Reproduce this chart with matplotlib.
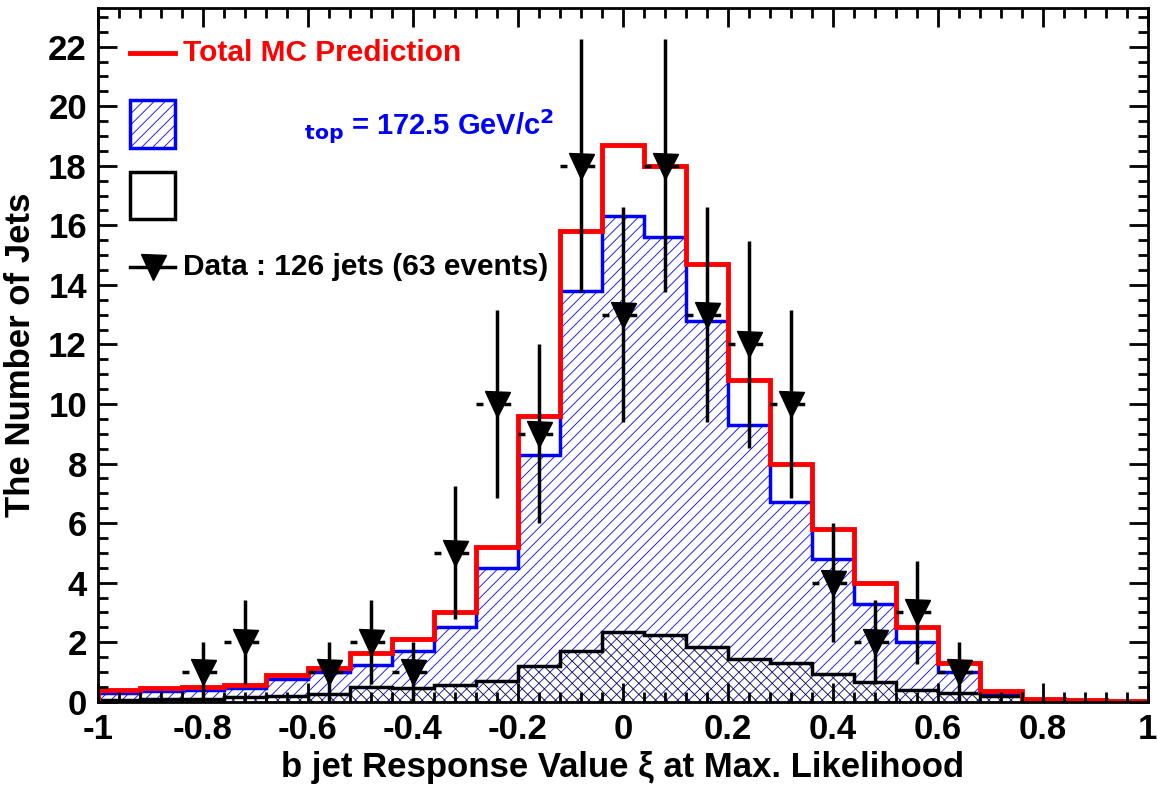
import numpy as np
import matplotlib
matplotlib.use("Agg")
import matplotlib.pyplot as plt
from matplotlib.patches import Rectangle
from matplotlib.ticker import MultipleLocator

plt.rcParams["font.family"] = ["Liberation Sans", "DejaVu Sans"]
plt.rcParams["font.weight"] = "bold"
plt.rcParams["hatch.linewidth"] = 0.6

# bin edges: 25 bins of width 0.08 from -1 to 1
edges = np.linspace(-1, 1, 26)

total_mc = [0.4, 0.45, 0.5, 0.55, 0.9, 1.15, 1.65, 2.1, 3.0, 5.2, 9.6, 15.8, 18.7,
            18.0, 14.7, 10.8, 8.0, 5.8, 4.0, 2.5, 1.3, 0.35, 0.1, 0.05, 0.02]
signal = [0.3, 0.35, 0.4, 0.45, 0.75, 1.0, 1.25, 1.7, 2.5, 4.5, 8.3, 13.8, 16.3,
          15.6, 12.8, 9.3, 6.7, 4.8, 3.3, 2.0, 1.0, 0.3, 0.05, 0.03, 0.01]
background = [0.05, 0.1, 0.1, 0.15, 0.2, 0.25, 0.5, 0.45, 0.55, 0.7, 1.2, 1.7, 2.35,
              2.25, 1.85, 1.45, 1.3, 0.95, 0.65, 0.4, 0.3, 0.2, 0.05, 0.02, 0.01]

data_x = [-0.80, -0.72, -0.56, -0.48, -0.40, -0.32, -0.24, -0.16, -0.08, 0.0,
          0.08, 0.16, 0.24, 0.32, 0.40, 0.48, 0.56, 0.64]
data_y = [1, 2, 1, 2, 1, 5, 10, 9, 18, 13, 18, 13, 12, 10, 4, 2, 3, 1]

fig = plt.figure(figsize=(11.57, 7.93), dpi=100)
ax = fig.add_axes([0.0847, 0.115, 0.9073, 0.875])

def step_fill(vals, color, hatch, lw):
    ax.stairs(vals, edges, fill=True, facecolor="none", edgecolor=color, hatch=hatch,
              linewidth=0)
    ax.stairs(vals, edges, color=color, linewidth=lw)

step_fill(signal, "blue", "///", 2.5)
step_fill(background, "black", "\\\\\\", 2.5)
ax.stairs(total_mc, edges, color="red", linewidth=3.5)

data_y = np.array(data_y)
ax.errorbar(data_x, data_y, yerr=np.sqrt(data_y), fmt="none", ecolor="black",
            elinewidth=2.5, capsize=0)
for x, y in zip(data_x, data_y):
    ax.plot([x - 0.04, x + 0.04], [y, y], color="black", linestyle=(0, (2, 6)), lw=2.5)
ax.plot(data_x, data_y, "v", color="black", markersize=18, linestyle="none")

ax.set_xlim(-1, 1)
ax.set_ylim(0, 23.3)
ax.xaxis.set_minor_locator(MultipleLocator(0.04))
ax.yaxis.set_major_locator(MultipleLocator(2))
ax.yaxis.set_minor_locator(MultipleLocator(0.5))
ax.tick_params(which="both", direction="in", top=True, right=True, width=2)
ax.tick_params(which="major", length=14, labelsize=25, pad=8)
ax.tick_params(which="minor", length=7)
ax.set_xticks(np.arange(-1, 1.01, 0.2))
ax.set_xticklabels(["-1", "-0.8", "-0.6", "-0.4", "-0.2", "0", "0.2", "0.4", "0.6", "0.8", "1"])
for s in ax.spines.values():
    s.set_linewidth(2)
ax.set_xlabel("b jet Response Value ξ at Max. Likelihood", fontsize=25, fontweight="bold")
ax.set_ylabel("The Number of Jets", fontsize=25, fontweight="bold", labelpad=8)

# legend drawn by hand (ROOT style)
ax.plot([-0.939, -0.853], [21.8, 21.8], color="red", lw=3.5)
ax.text(-0.838, 21.8, "Total MC Prediction", color="red", fontsize=21.5, va="center")
ax.add_patch(Rectangle((-0.939, 18.6), 0.086, 1.6, facecolor="none", edgecolor="blue",
                       hatch="///", lw=2.5))
ax.add_patch(Rectangle((-0.939, 16.2), 0.086, 1.6, facecolor="none", edgecolor="black",
                       lw=2.5))
ax.text(-0.607, 19.3, r"$_{\mathbf{top}}$ = 172.5 GeV/c$^{\mathbf{2}}$", color="blue",
        fontsize=21, va="center")
ax.plot([-0.939, -0.853], [14.6, 14.6], color="black", lw=2.5)
ax.plot([-0.896], [14.6], "v", color="black", markersize=18)
ax.text(-0.838, 14.6, "Data : 126 jets (63 events)", color="black", fontsize=21.5, va="center")

fig.savefig("out.png", dpi=100, facecolor="white")
